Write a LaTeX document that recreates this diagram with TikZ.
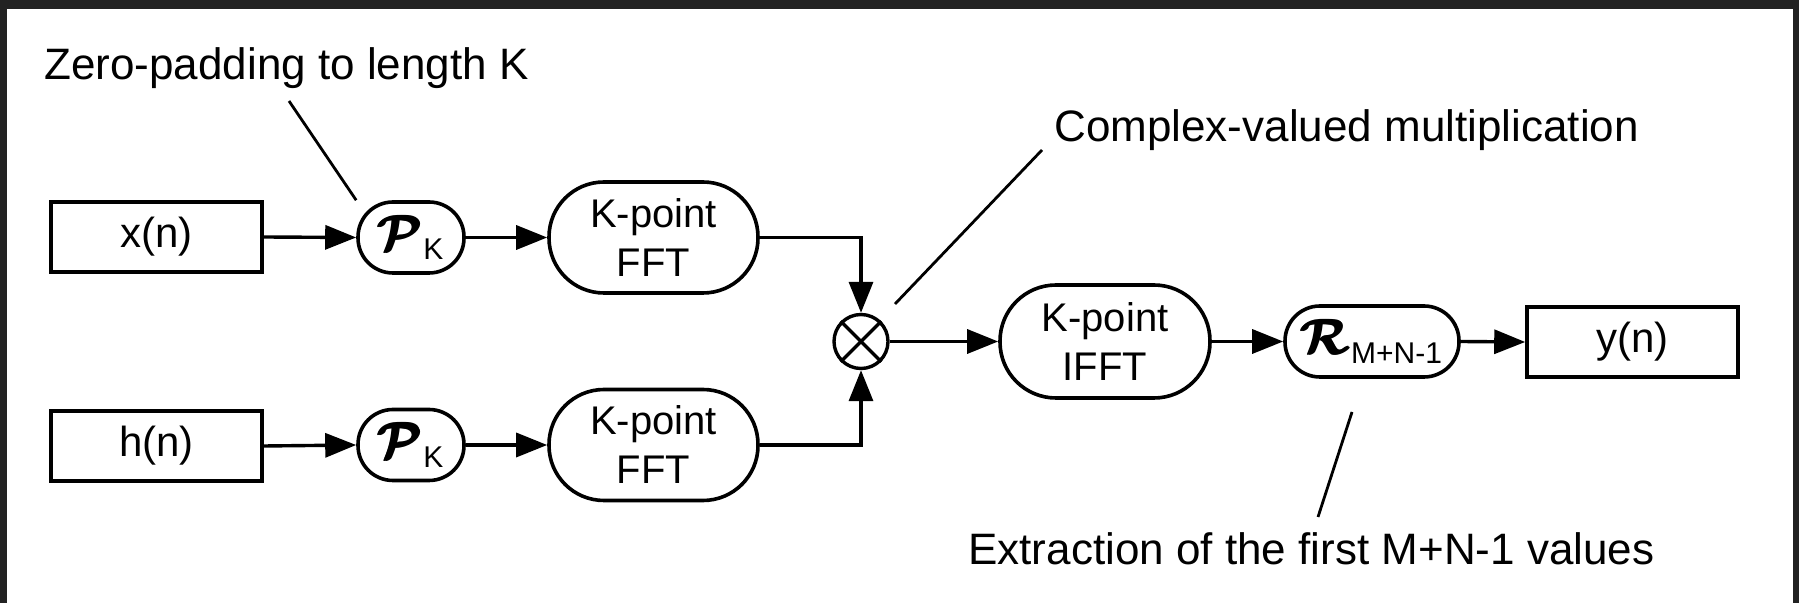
\documentclass[tikz,border=0pt]{standalone}
\usepackage{fontspec}
\setmainfont{Liberation Sans}
\usepackage{amsmath}
\usepackage{bm}
\usetikzlibrary{arrows.meta}
\definecolor{framecol}{HTML}{222222}
\newcommand{\opsym}[2]{{\fontsize{25}{25}\selectfont$\pmb{\bm{\mathcal{#1}}}$}\raisebox{-0.22em}{\fontsize{15}{15}\selectfont #2}}
\begin{document}
\begin{tikzpicture}[x=0.5pt,y=-0.5pt,
  sigbox/.style={draw, line width=1.8pt, minimum width=105.5pt, minimum height=35pt, inner sep=0pt, font=\fontsize{21}{24}\selectfont},
  opbox/.style={draw, line width=1.8pt, rounded corners=17.5pt, minimum height=35.5pt, inner sep=0pt, font=\fontsize{21}{24}\selectfont},
  fftbox/.style={draw, line width=1.8pt, rounded corners=27.5pt, minimum width=104.5pt, minimum height=55.5pt, inner sep=0pt, align=center, font=\fontsize{20}{24.5}\selectfont},
  multnode/.style={draw, circle, line width=1.7pt, minimum size=27pt, inner sep=0pt},
  sig/.style={line width=1.7pt, -{Triangle[length=15.5pt,width=12pt]}},
  leader/.style={line width=1.4pt},
  lbl/.style={inner sep=0pt, anchor=base west, font=\fontsize{22}{26}\selectfont},
]
\fill[white] (0,0) rectangle (1799,603);
\useasboundingbox (0,0) rectangle (1799,603);
\fill[framecol] (0,0) rectangle (1799,9);
\fill[framecol] (0,0) rectangle (7,603);
\fill[framecol] (1793,0) rectangle (1799,603);

% top row
\node[sigbox] (xn) at (156.5,237) {x(n)};
\node[opbox, minimum width=53pt] (pk1) at (411,237.5) {\opsym{P}{K}};
\node[fftbox] (fft1) at (653.5,237.5) {K-point\\FFT};

% bottom row
\node[sigbox] (hn) at (156.5,446) {h(n)};
\node[opbox, minimum width=53pt] (pk2) at (411,445) {\opsym{P}{K}};
\node[fftbox] (fft2) at (653.5,445) {K-point\\FFT};

% middle row
\node[multnode] (mult) at (861,341.5) {};
\draw[line width=1.7pt] (mult.north west) -- (mult.south east);
\draw[line width=1.7pt] (mult.north east) -- (mult.south west);
\node[fftbox, minimum width=105pt, minimum height=56.5pt, rounded corners=28pt] (ifft) at (1105,341.5) {K-point\\IFFT};
\node[opbox, minimum width=87pt] (rm) at (1372,341.5) {\opsym{R}{M+N-1}};
\node[sigbox] (yn) at (1632.5,342) {y(n)};

% signal arrows
\draw[sig] (xn.east) -- (pk1.west);
\draw[sig] (pk1.east) -- (fft1.west);
\draw[sig] (hn.east) -- (pk2.west);
\draw[sig] (pk2.east) -- (fft2.west);
\draw[sig] (fft1.east) -| (mult.north);
\draw[sig] (fft2.east) -| (mult.south);
\draw[sig] (mult.east) -- (ifft.west);
\draw[sig] (ifft.east) -- (rm.west);
\draw[sig] (rm.east) -- (yn.west);

% labels
\node[lbl] (zp) at (44,80) {Zero-padding to length K};
\node[lbl] (cv) at (1054,142) {Complex-valued multiplication};
\node[lbl] (ex) at (968,565) {Extraction of the first M+N-1 values};

% leaders
\coordinate (zpend) at (289,101);
\draw[leader] (zpend) -- (pk1.north west);
\coordinate (cvstart) at (895,304);
\coordinate (cvend) at (1042,150);
\draw[leader] (cvstart) -- (cvend);
\coordinate (exstart) at (1352,412);
\coordinate (exend) at (1318,517);
\draw[leader] (exstart) -- (exend);
\end{tikzpicture}
\end{document}
